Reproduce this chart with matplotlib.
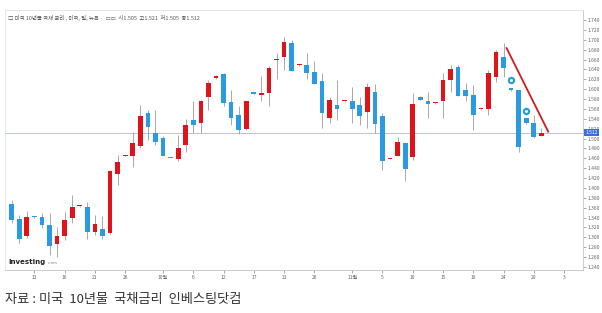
import matplotlib as mpl
mpl.use('Agg')
import matplotlib.pyplot as plt
import matplotlib.transforms as mtransforms
import numpy as np

plt.rcParams['font.family'] = ['Noto Sans CJK KR', 'DejaVu Sans']

# daily candles, US 10y treasury yield (Sep 8 - Nov 30)
opens = [1.368, 1.338, 1.303, 1.342, 1.342, 1.325, 1.287, 1.303, 1.339, 1.363,
         1.361, 1.310, 1.316, 1.308, 1.428, 1.465, 1.465, 1.484, 1.551, 1.511,
         1.501, 1.461, 1.459, 1.487, 1.538, 1.531, 1.585, 1.622, 1.630, 1.573,
         1.548, 1.519, 1.592, 1.589, 1.592, 1.658, 1.666, 1.693, 1.648, 1.649,
         1.635, 1.617, 1.541, 1.568, 1.575, 1.575, 1.568, 1.554, 1.594, 1.546,
         1.459, 1.465, 1.490, 1.463, 1.585, 1.577, 1.571, 1.575, 1.619, 1.644,
         1.598, 1.588, 1.559, 1.559, 1.624, 1.665, 1.602, 1.598, 1.541, 1.531,
         1.505]
highs = [1.376, 1.345, 1.354, 1.343, 1.350, 1.350, 1.320, 1.351, 1.386, 1.364,
         1.372, 1.345, 1.343, 1.436, 1.467, 1.466, 1.514, 1.568, 1.558, 1.558,
         1.505, 1.461, 1.507, 1.539, 1.575, 1.578, 1.619, 1.628, 1.632, 1.598,
         1.566, 1.577, 1.593, 1.627, 1.647, 1.674, 1.706, 1.700, 1.650, 1.674,
         1.656, 1.633, 1.585, 1.619, 1.577, 1.605, 1.585, 1.612, 1.610, 1.551,
         1.461, 1.504, 1.491, 1.592, 1.586, 1.595, 1.574, 1.633, 1.648, 1.649,
         1.613, 1.608, 1.560, 1.639, 1.679, 1.693, 1.603, 1.599, 1.542, 1.548,
         1.521]
lows = [1.329, 1.288, 1.298, 1.340, 1.318, 1.264, 1.260, 1.295, 1.329, 1.362,
        1.297, 1.305, 1.296, 1.306, 1.405, 1.464, 1.443, 1.480, 1.497, 1.487,
        1.464, 1.460, 1.455, 1.473, 1.511, 1.511, 1.558, 1.621, 1.566, 1.528,
        1.509, 1.518, 1.590, 1.575, 1.566, 1.620, 1.639, 1.637, 1.647, 1.620,
        1.610, 1.521, 1.531, 1.538, 1.574, 1.531, 1.528, 1.521, 1.511, 1.436,
        1.458, 1.464, 1.415, 1.457, 1.578, 1.541, 1.570, 1.541, 1.595, 1.586,
        1.575, 1.517, 1.558, 1.548, 1.615, 1.625, 1.597, 1.473, 1.530, 1.502,
        1.505]
closes = [1.335, 1.297, 1.342, 1.341, 1.325, 1.283, 1.303, 1.335, 1.362, 1.363,
          1.311, 1.327, 1.303, 1.435, 1.453, 1.465, 1.490, 1.546, 1.524, 1.493,
          1.465, 1.460, 1.480, 1.527, 1.527, 1.577, 1.612, 1.627, 1.571, 1.541,
          1.517, 1.575, 1.591, 1.593, 1.642, 1.660, 1.696, 1.637, 1.649, 1.633,
          1.610, 1.551, 1.578, 1.560, 1.577, 1.560, 1.546, 1.604, 1.530, 1.454,
          1.460, 1.494, 1.438, 1.570, 1.578, 1.570, 1.573, 1.619, 1.641, 1.586,
          1.587, 1.548, 1.559, 1.633, 1.675, 1.642, 1.598, 1.482, 1.531, 1.503,
          1.512]

# event markers and the drawn trend line
event_idx = [66, 68]
event_val = [1.6185, 1.5564]
trend_idx = [65.4, 70.9]
trend_val = [1.683, 1.514]
last_price = 1.512

date_pos = [3, 7, 11, 15, 20, 24, 28, 32, 36, 40, 45, 49, 53, 57, 61, 65, 69, 73]
date_labels = ['12', '16', '21', '26', '10월', '6', '12', '17', '21', '26',
               '11월', '5', '10', '15', '19', '24', '29', '3']
y_ticks = np.round(np.arange(1.24, 1.741, 0.02), 3)

RED = '#e0131b'
BLUE = '#2a9ae2'

fig = plt.figure(figsize=(6.02, 3.13), dpi=100)
W, H = 602, 313
ax = fig.add_axes([5 / W, (H - 270) / H, (583 - 5) / W, 260 / H])

x = np.arange(len(opens))
o = np.array(opens)
c = np.array(closes)
up = c >= o
cols = [RED if u else BLUE for u in up]
ax.vlines(x, lows, highs, color='#9a9a9a', lw=0.6, zorder=2)
body = np.maximum(np.abs(c - o), 0.0025)
ax.bar(x, body, bottom=np.minimum(o, c), width=0.62, color=cols, zorder=3,
       linewidth=0)

ax.axhline(last_price, color='#b8c4de', lw=0.7, zorder=1)
ax.plot(trend_idx, trend_val, color='#cc1d22', lw=1.3, zorder=4)
ax.scatter(event_idx, event_val, s=14, facecolor='white', edgecolor=BLUE,
           linewidth=1.6, zorder=5)

ax.set_xlim(-0.885, 75.5)
ax.set_ylim(1.2339, 1.7602)

ax.yaxis.tick_right()
ax.set_yticks(y_ticks)
ax.set_yticklabels(['%.3f' % v for v in y_ticks])
ax.set_xticks(date_pos)
ax.set_xticklabels(date_labels)
ax.tick_params(axis='both', labelsize=3.6, colors='#666666', length=2,
               width=0.4, pad=1.5)
for s in ['left', 'top']:
    ax.spines[s].set_color('#e2e2e2')
for s in ['right', 'bottom']:
    ax.spines[s].set_color('#c4c4c4')
for s in ax.spines.values():
    s.set_linewidth(0.6)

trans = mtransforms.blended_transform_factory(ax.transAxes, ax.transData)
ax.text(1.004, last_price, '1.512', transform=trans, fontsize=3.6,
        color='white', va='center', ha='left', zorder=6,
        bbox=dict(boxstyle='square,pad=0.25', fc='#3a6fd8', ec='none'))

ax.text(0.005, 0.97, '□ 미국 10년물 국채 금리 , 미국, 일, 뉴욕 ·  ▭▭  시1.505  고1.521  저1.505  종1.512',
        transform=ax.transAxes, fontsize=3.9, color='#555555', va='center',
        ha='left')
ax.text(0.005, 0.03, 'Investing', transform=ax.transAxes, fontsize=5,
        fontweight='bold', color='#222222', va='center', ha='left',
        family=['DejaVu Sans'])
ax.text(0.074, 0.025, '.com', transform=ax.transAxes, fontsize=3,
        color='#888888', va='center', ha='left', family=['DejaVu Sans'])

fig.text(5 / W, 1 - 300 / H, '자료 : 미국  10년물  국채금리  인베스팅닷컴',
         fontsize=9.5, color='#333333', va='center', ha='left')

fig.savefig('out.png', dpi=100)
plt.close()
